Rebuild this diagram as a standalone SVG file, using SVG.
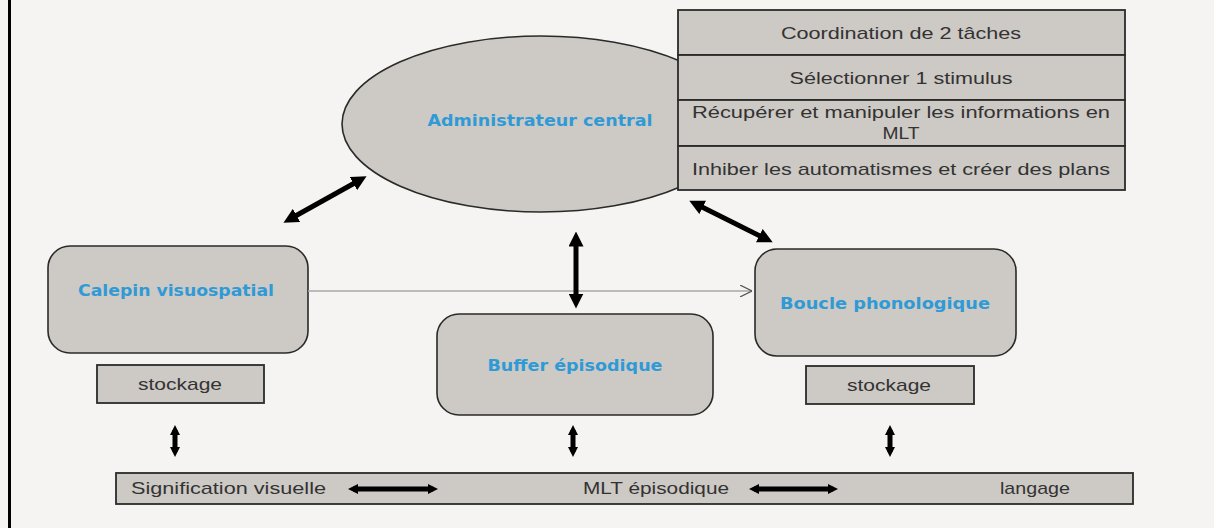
<svg xmlns="http://www.w3.org/2000/svg" width="1214" height="528" viewBox="0 0 1214 528">
<defs>
<style>
.bg{fill:#f5f4f2}
.shape{fill:#cdc9c4;stroke:#2a2a2a;stroke-width:1.6}
.box{fill:#cdc9c4;stroke:#2b2b2b;stroke-width:1.8}
.blue{font-family:"DejaVu Sans",sans-serif;font-weight:bold;font-size:15px;fill:#2f9ad6;text-anchor:middle}
.txt{font-family:"Liberation Sans",sans-serif;font-size:17px;fill:#333;text-anchor:middle}
.thick{stroke:#000;stroke-width:5;fill:none;marker-start:url(#hd);marker-end:url(#hd)}
.thin{stroke:#000;stroke-width:5;fill:none;marker-start:url(#hs);marker-end:url(#hs)}
</style>
<marker id="hd" viewBox="0 0 10 10" refX="5" refY="5" markerWidth="3" markerHeight="3" orient="auto-start-reverse" markerUnits="strokeWidth"><path d="M0,0 L10,5 L0,10 z" fill="#000"/></marker>
<marker id="hs" viewBox="0 0 10 10" refX="5" refY="5" markerWidth="2" markerHeight="2" orient="auto-start-reverse" markerUnits="strokeWidth"><path d="M0,0 L10,5 L0,10 z" fill="#000"/></marker>
<marker id="open" viewBox="0 0 10 10" refX="10" refY="5" markerWidth="12" markerHeight="12" orient="auto" markerUnits="userSpaceOnUse"><path d="M0,0 L10,5 L0,10" fill="none" stroke="#555" stroke-width="1"/></marker>
</defs>
<rect class="bg" x="0" y="0" width="1214" height="528"/>
<line x1="9.5" y1="0" x2="9.5" y2="528" stroke="#000" stroke-width="3"/>

<g id="administrateur">
<ellipse class="shape" cx="541" cy="124" rx="199" ry="88"/>
<text class="blue" x="540" y="126" textLength="225" lengthAdjust="spacingAndGlyphs">Administrateur central</text>
</g>

<g id="fonctions">
<rect class="box" x="678" y="10" width="447" height="45"/>
<text class="txt" x="901" y="39" textLength="240" lengthAdjust="spacingAndGlyphs">Coordination  de 2 tâches</text>
<rect class="box" x="678" y="55" width="447" height="45"/>
<text class="txt" x="901" y="84" textLength="223" lengthAdjust="spacingAndGlyphs">Sélectionner  1 stimulus</text>
<rect class="box" x="678" y="100" width="447" height="46"/>
<text class="txt" x="901" y="118" textLength="418" lengthAdjust="spacingAndGlyphs">Récupérer  et manipuler  les informations  en</text>
<text class="txt" x="901" y="139" textLength="37" lengthAdjust="spacingAndGlyphs">MLT</text>
<rect class="box" x="678" y="146" width="447" height="44"/>
<text class="txt" x="901" y="175" textLength="418" lengthAdjust="spacingAndGlyphs">Inhiber  les automatismes  et créer des plans</text>
</g>

<g id="calepin">
<rect class="shape" x="48" y="246" width="260" height="107" rx="22"/>
<text class="blue" x="176" y="296" textLength="196" lengthAdjust="spacingAndGlyphs">Calepin visuospatial</text>
</g>
<g id="stockage-gauche">
<rect class="box" x="97" y="365" width="167" height="38"/>
<text class="txt" x="180" y="390" textLength="84" lengthAdjust="spacingAndGlyphs">stockage</text>
</g>

<g id="buffer">
<rect class="shape" x="437" y="314" width="276" height="101" rx="22"/>
<text class="blue" x="575" y="371" textLength="175" lengthAdjust="spacingAndGlyphs">Buffer épisodique</text>
</g>

<g id="boucle">
<rect class="shape" x="755" y="249" width="261" height="107" rx="22"/>
<text class="blue" x="885" y="309" textLength="210" lengthAdjust="spacingAndGlyphs">Boucle phonologique</text>
</g>
<g id="stockage-droite">
<rect class="box" x="806" y="366" width="168" height="38"/>
<text class="txt" x="889" y="391" textLength="84" lengthAdjust="spacingAndGlyphs">stockage</text>
</g>

<g id="mlt">
<rect class="box" x="116" y="473" width="1017" height="31"/>
<text class="txt" x="131" y="494" style="text-anchor:start" textLength="195" lengthAdjust="spacingAndGlyphs">Signification visuelle</text>
<text class="txt" x="656" y="494" textLength="146" lengthAdjust="spacingAndGlyphs">MLT épisodique</text>
<text class="txt" x="1035" y="494" textLength="70" lengthAdjust="spacingAndGlyphs">langage</text>
</g>

<g id="connecteurs">
<line x1="308" y1="291" x2="752" y2="291" stroke="#a8a8a8" stroke-width="1.6" marker-end="url(#open)"/>
<line class="thick" x1="290" y1="219" x2="360" y2="180"/>
<line class="thick" x1="696" y1="204" x2="766" y2="239"/>
<line class="thick" x1="576" y1="239" x2="576" y2="301"/>
<line class="thin" x1="175" y1="430" x2="175" y2="452"/>
<line class="thin" x1="573" y1="430" x2="573" y2="452"/>
<line class="thin" x1="890" y1="430" x2="890" y2="452"/>
<line class="thin" x1="353" y1="489" x2="433" y2="489"/>
<line class="thin" x1="754" y1="489" x2="833" y2="489"/>
</g>
</svg>
